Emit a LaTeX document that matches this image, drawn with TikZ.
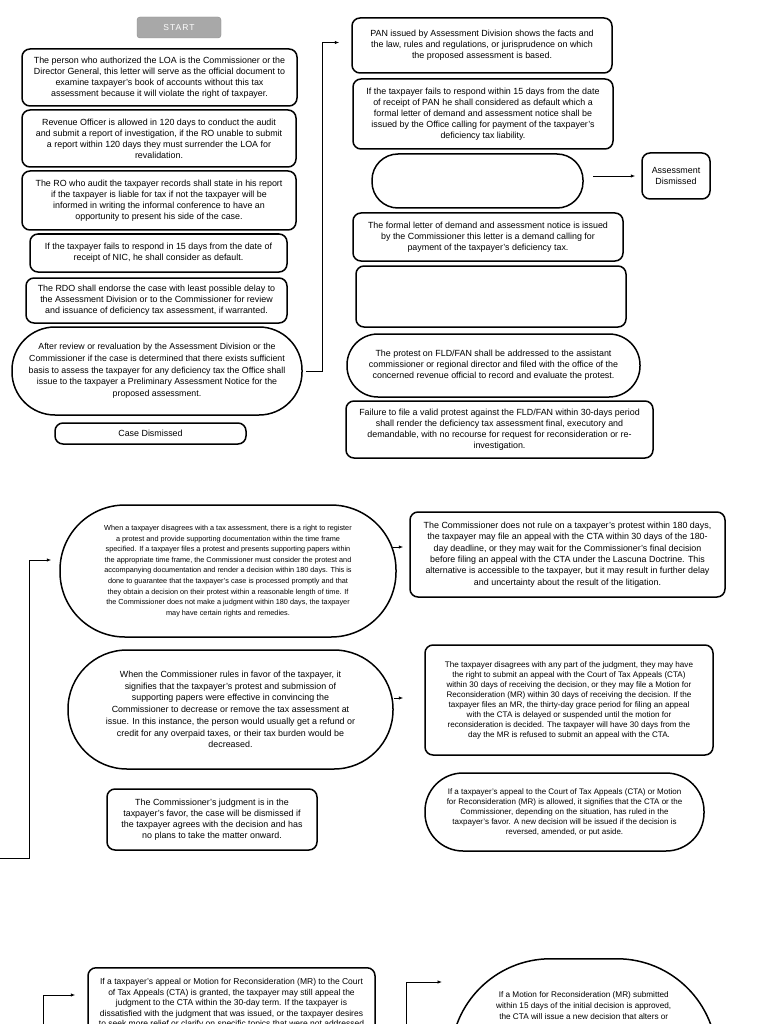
\documentclass[tikz,border=0pt]{standalone}
\usepackage{fontspec}
\setmainfont{Liberation Sans}
\usetikzlibrary{arrows.meta}
\definecolor{startfill}{RGB}{168,168,168}
\definecolor{startline}{RGB}{140,140,140}

\begin{document}
\begin{tikzpicture}[x=1pt, y=-1pt,
    box/.style={draw, line width=1.5pt, rounded corners=8pt, align=center, inner sep=2pt,
      font=\fontsize{8.9}{11}\selectfont},
    pill/.style={box, rounded corners=#1},
    startbox/.style={draw=startline, fill=startfill, rounded corners=3pt, text=white,
      font=\fontsize{8.5}{10}\selectfont\addfontfeature{LetterSpace=12}},
    link/.style={line width=0.8pt, -{Latex[length=4.5pt, width=3.5pt]}}]
  \useasboundingbox (0,0) rectangle (768,1024);
  \fill[white] (0,0) rectangle (768,1024);
  \clip (0,0) rectangle (768,1024);

  % Colonna sinistra
  \node[startbox, minimum width=84pt, minimum height=21pt] (start) at (179,27.5) {START};
  \node[box, minimum width=275pt, minimum height=57pt] (loa) at (159.5,77.5)
    {The person who authorized the LOA is the Commissioner or the\\
     Director General, this letter will serve as the official document to\\
     examine taxpayer's book of accounts without this tax\\
     assessment because it will violate the right of taxpayer.};
  \node[box, minimum width=274pt, minimum height=57pt] (ro) at (159,138.5)
    {Revenue Officer is allowed in 120 days to conduct the audit\\
     and submit a report of investigation, if the RO unable to submit\\
     a report within 120 days they must surrender the LOA for\\
     revalidation.};
  \node[box, minimum width=274pt, minimum height=59pt] (report) at (159,200.5)
    {The RO who audit the taxpayer records shall state in his report\\
     if the taxpayer is liable for tax if not the taxpayer will be\\
     informed in writing the informal conference to have an\\
     opportunity to present his side of the case.};
  \node[box, minimum width=257pt, minimum height=38pt] (nic) at (158.5,253)
    {If the taxpayer fails to respond in 15 days from the date of\\
     receipt of NIC, he shall consider as default.};
  \node[box, minimum width=261pt, minimum height=45pt] (rdo) at (156.5,300.5)
    {The RDO shall endorse the case with least possible delay to\\
     the Assessment Division or to the Commissioner for review\\
     and issuance of deficiency tax assessment, if warranted.};
  \node[pill=43pt, minimum width=290pt, minimum height=88pt,
    font=\fontsize{8.8}{11.7}\selectfont] (pre) at (157,371)
    {After review or revaluation by the Assessment Division or the\\
     Commissioner if the case is determined that there exists sufficient\\
     basis to assess the taxpayer for any deficiency tax the Office shall\\
     issue to the taxpayer a Preliminary Assessment Notice for the\\
     proposed assessment.};
  \node[box, minimum width=191pt, minimum height=21pt] (casedis) at (150.5,433.5) {Case Dismissed};

  % Colonna destra
  \node[box, minimum width=260pt, minimum height=55pt] (pan) at (482,45.5)
    {PAN issued by Assessment Division shows the facts and\\
     the law, rules and regulations, or jurisprudence on which\\
     the proposed assessment is based.};
  \node[box, minimum width=260pt, minimum height=70pt] (default) at (483,114)
    {If the taxpayer fails to respond within 15 days from the date\\
     of receipt of PAN he shall considered as default which a\\
     formal letter of demand and assessment notice shall be\\
     issued by the Office calling for payment of the taxpayer's\\
     deficiency tax liability.};
  \node[pill=26pt, minimum width=211pt, minimum height=54pt] (blank) at (477.5,181) {};
  \node[box, minimum width=68pt, minimum height=46pt] (asmdis) at (676,176) {Assessment\\Dismissed};
  \node[box, minimum width=270pt, minimum height=48pt] (fld) at (488,237)
    {The formal letter of demand and assessment notice is issued\\
     by the Commissioner this letter is a demand calling for\\
     payment of the taxpayer's deficiency tax.};
  \node[box, minimum width=270pt, minimum height=61pt] (blankbox) at (491,296.5) {};
  \node[pill=31pt, minimum width=293pt, minimum height=63pt] (protest) at (493.5,365.5)
    {The protest on FLD/FAN shall be addressed to the assistant\\
     commissioner or regional director and filed with the office of the\\
     concerned revenue official to record and evaluate the protest.};
  \node[box, minimum width=307pt, minimum height=57pt] (failure) at (499.5,429.5)
    {Failure to file a valid protest against the FLD/FAN within 30-days period\\
     shall render the deficiency tax assessment final, executory and\\
     demandable, with no recourse for request for reconsideration or re-\\
     investigation.};

  % Parte centrale
  \node[pill=65pt, minimum width=336pt, minimum height=132pt,
    font=\fontsize{7.3}{10.6}\selectfont] (disagree) at (228,571)
    {When a taxpayer disagrees with a tax assessment, there is a right to register\\
     a protest and provide supporting documentation within the time frame\\
     specified. If a taxpayer files a protest and presents supporting papers within\\
     the appropriate time frame, the Commissioner must consider the protest and\\
     accompanying documentation and render a decision within 180 days. This is\\
     done to guarantee that the taxpayer's case is processed promptly and that\\
     they obtain a decision on their protest within a reasonable length of time. If\\
     the Commissioner does not make a judgment within 180 days, the taxpayer\\
     may have certain rights and remedies.};
  \node[box, minimum width=315pt, minimum height=85pt,
    font=\fontsize{8.9}{11.3}\selectfont] (noruling) at (567.5,554.5)
    {The Commissioner does not rule on a taxpayer's protest within 180 days,\\
     the taxpayer may file an appeal with the CTA within 30 days of the 180-\\
     day deadline, or they may wait for the Commissioner's final decision\\
     before filing an appeal with the CTA under the Lascuna Doctrine. This\\
     alternative is accessible to the taxpayer, but it may result in further delay\\
     and uncertainty about the result of the litigation.};
  \node[pill=59pt, minimum width=325pt, minimum height=119pt,
    font=\fontsize{8.9}{11.7}\selectfont] (favor) at (230.5,709.5)
    {When the Commissioner rules in favor of the taxpayer, it\\
     signifies that the taxpayer's protest and submission of\\
     supporting papers were effective in convincing the\\
     Commissioner to decrease or remove the tax assessment at\\
     issue. In this instance, the person would usually get a refund or\\
     credit for any overpaid taxes, or their tax burden would be\\
     decreased.};
  \node[box, minimum width=288pt, minimum height=110pt,
    font=\fontsize{8.1}{10}\selectfont] (partial) at (569,700)
    {The taxpayer disagrees with any part of the judgment, they may have\\
     the right to submit an appeal with the Court of Tax Appeals (CTA)\\
     within 30 days of receiving the decision, or they may file a Motion for\\
     Reconsideration (MR) within 30 days of receiving the decision. If the\\
     taxpayer files an MR, the thirty-day grace period for filing an appeal\\
     with the CTA is delayed or suspended until the motion for\\
     reconsideration is decided. The taxpayer will have 30 days from the\\
     day the MR is refused to submit an appeal with the CTA.};
  \node[box, minimum width=210pt, minimum height=61pt] (judgment) at (212,819.5)
    {The Commissioner's judgment is in the\\
     taxpayer's favor, the case will be dismissed if\\
     the taxpayer agrees with the decision and has\\
     no plans to take the matter onward.};
  \node[pill=38pt, minimum width=279pt, minimum height=78pt,
    font=\fontsize{8}{10}\selectfont] (allowed) at (564.5,812)
    {If a taxpayer's appeal to the Court of Tax Appeals (CTA) or Motion\\
     for Reconsideration (MR) is allowed, it signifies that the CTA or the\\
     Commissioner, depending on the situation, has ruled in the\\
     taxpayer's favor. A new decision will be issued if the decision is\\
     reversed, amended, or put aside.};

  % Parte bassa
  \node[box, minimum width=287pt, minimum height=130pt, anchor=north] (granted) at (231.5,967) {};
  \node[anchor=north, align=center, font=\fontsize{8.5}{10.5}\selectfont] (grantedtext)
    at ([yshift=-8pt]granted.north)
    {If a taxpayer's appeal or Motion for Reconsideration (MR) to the Court\\
     of Tax Appeals (CTA) is granted, the taxpayer may still appeal the\\
     judgment to the CTA within the 30-day term. If the taxpayer is\\
     dissatisfied with the judgment that was issued, or the taxpayer desires\\
     to seek more relief or clarify on specific topics that were not addressed};
  \node[box, rounded corners=100pt, minimum width=266pt, minimum height=210pt, anchor=north west]
    (mrapproved) at (450,958) {};
  \node[anchor=north, align=center, font=\fontsize{8.2}{11}\selectfont] (mrtext)
    at ([yshift=-30pt]mrapproved.north)
    {If a Motion for Reconsideration (MR) submitted\\
     within 15 days of the initial decision is approved,\\
     the CTA will issue a new decision that alters or};

  % Collegamenti
  \coordinate (tomis) at (593,176);
  \coordinate (fromleft) at (0,858);
  \coordinate (frombot1) at (43,1030);
  \coordinate (frombot2) at (406,1030);
  \draw[link] ([xshift=3pt]pre.east) -- ++(17,0) |- ([xshift=-12pt, yshift=3pt]pan.west);
  \draw[link] (tomis) -- ([xshift=-6pt]asmdis.west);
  \draw[link] (fromleft) -- ++(29,0) |- ([xshift=-8pt, yshift=11pt]disagree.west);
  \draw[link] ([xshift=-4pt, yshift=24pt]disagree.east) -- ([xshift=-6pt, yshift=7.5pt]noruling.west);
  \draw[link] ([xshift=0pt, yshift=11.5pt]favor.east) -- ([xshift=-21pt, yshift=2pt]partial.west);
  \draw[link] (frombot1) |- ([xshift=-12pt, yshift=-28pt]granted.north west);
  \draw[link] (frombot2) |- ([xshift=-8pt, yshift=-24pt]mrapproved.north west);
\end{tikzpicture}
\end{document}
